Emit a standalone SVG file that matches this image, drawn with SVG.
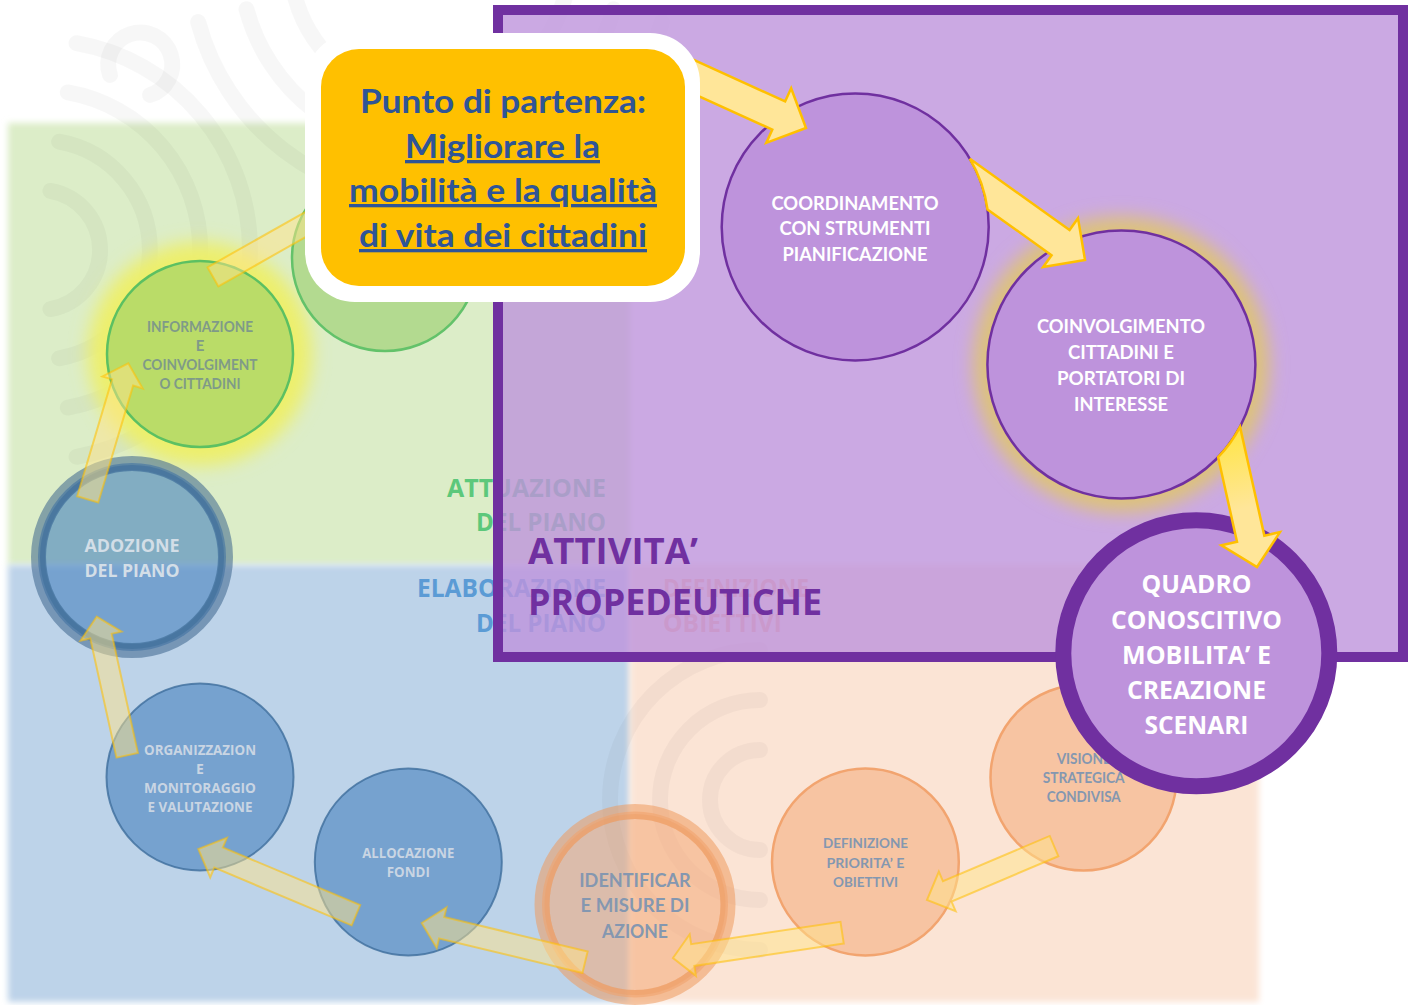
<svg xmlns="http://www.w3.org/2000/svg" width="1409" height="1005" viewBox="0 0 1409 1005">
<defs>
<style>
.q{filter:url(#soft)}
.pat{fill:none;stroke:#000;stroke-opacity:.03;stroke-width:16;stroke-linecap:round}
.lbl{font-family:"Open Sans","Liberation Sans",sans-serif;font-weight:700}
.t{font-family:Lato,"Open Sans","Liberation Sans",sans-serif;font-weight:700;text-anchor:middle}
.o{font-family:"Open Sans","Liberation Sans",sans-serif;font-weight:700;text-anchor:middle}
.big{fill:#FFE699;stroke:#FFC000;stroke-width:2.5;stroke-linejoin:miter}
.fad{fill:#FFE38A;fill-opacity:.5;stroke:#FFC000;stroke-opacity:.55;stroke-width:2;stroke-linejoin:miter}
.pc{fill:#BE93DC;stroke:#7030A0;stroke-width:2.5}
.bc{fill:rgb(70,130,190);fill-opacity:.6;stroke:#3F6E9C;stroke-opacity:.8;stroke-width:2}
.oc{fill:rgb(244,170,120);fill-opacity:.55;stroke:#F2A46F;stroke-width:2.5}
.wt{fill:#FFFFFF}
.gt{fill:#8497B0}
</style>
<filter id="soft" x="-5%" y="-5%" width="110%" height="110%"><feGaussianBlur stdDeviation="3"/></filter>
<filter id="glow" x="-30%" y="-30%" width="160%" height="160%"><feGaussianBlur stdDeviation="9"/></filter>
<linearGradient id="gc" gradientUnits="userSpaceOnUse" x1="-140" y1="0" x2="-60" y2="0"><stop offset="0" stop-color="#FFE545"/><stop offset="1" stop-color="#FFE699"/></linearGradient>
</defs>
<rect width="1409" height="1005" fill="#FFFFFF"/>
<g id="quadrants">
<rect class="q" x="8" y="123" width="622" height="442" fill="#DCEDC8"/>
<rect class="q" x="8" y="565" width="622" height="437" fill="#BDD3E9"/>
<rect class="q" x="630" y="565" width="629" height="437" fill="#FBE4D5"/>
</g>
<g id="bg-pattern">
<path class="pat" d="M50.4,190.9 A60,60 0 0 1 50.4,309.1"/>
<path class="pat" d="M59.1,141.7 A110,110 0 0 1 59.1,358.3"/>
<path class="pat" d="M67.8,92.4 A160,160 0 0 1 67.8,407.6"/>
<path class="pat" d="M76.5,43.2 A210,210 0 0 1 76.5,456.8"/>
<path class="pat" d="M565.2,-3.8 A140,140 0 0 1 294.8,-3.8"/>
<path class="pat" d="M613.5,9.2 A190,190 0 0 1 246.5,9.2"/>
<path class="pat" d="M661.8,22.1 A240,240 0 0 1 198.2,22.1"/>
<path class="pat" d="M110,75 A32,32 0 1 1 150,95"/>
<path class="pat" d="M760,850 A50,50 0 0 1 760,750"/>
<path class="pat" d="M760,900 A100,100 0 0 1 760,700"/>
<path class="pat" d="M760,950 A150,150 0 0 1 760,650"/>
</g>
<g id="phase-labels" class="lbl" font-size="25.5">
<text x="606" y="497" text-anchor="end" fill="#5CC87B" textLength="159" lengthAdjust="spacingAndGlyphs">ATTUAZIONE</text>
<text x="606" y="531" text-anchor="end" fill="#5CC87B" textLength="130" lengthAdjust="spacingAndGlyphs">DEL PIANO</text>
<text x="606" y="597" text-anchor="end" fill="#5B9BD5" textLength="189" lengthAdjust="spacingAndGlyphs">ELABORAZIONE</text>
<text x="606" y="632" text-anchor="end" fill="#5B9BD5" textLength="130" lengthAdjust="spacingAndGlyphs">DEL PIANO</text>
<text x="663" y="597" fill="#F8B08A" textLength="146" lengthAdjust="spacingAndGlyphs">DEFINIZIONE</text>
<text x="663" y="632" fill="#F8B08A" textLength="119" lengthAdjust="spacingAndGlyphs">OBIETTIVI</text>
</g>
<g id="attivita-propedeutiche">
<rect x="498" y="10" width="905" height="647" fill="#BE93DC" fill-opacity="0.8" stroke="#7030A0" stroke-width="10"/>
<text class="lbl" x="528" y="563.5" font-size="35" fill="#7030A0" textLength="170" lengthAdjust="spacingAndGlyphs">ATTIVITA’</text>
<text class="lbl" x="528" y="615" font-size="35" fill="#7030A0" textLength="294" lengthAdjust="spacingAndGlyphs">PROPEDEUTICHE</text>
</g>
<g id="node-informazione">
<circle cx="200" cy="354" r="112" fill="#EDEF6C" filter="url(#glow)"/>
<circle cx="200" cy="354" r="93" fill="#BADC68" stroke="#5CC062" stroke-width="2.5"/>
<g class="t" font-size="15" fill="#7F9A88">
<text x="200" y="331.7" textLength="106" lengthAdjust="spacingAndGlyphs">INFORMAZIONE</text>
<text x="200" y="350.7">E</text>
<text x="200" y="370" textLength="115" lengthAdjust="spacingAndGlyphs">COINVOLGIMENT</text>
<text x="200" y="389.3" textLength="81" lengthAdjust="spacingAndGlyphs">O CITTADINI</text>
</g>
</g>
<g id="node-hidden-green">
<circle cx="385" cy="258" r="93" fill="#B3DA90" stroke="#63C26A" stroke-width="2.5"/>
</g>
<g id="node-adozione">
<circle cx="132" cy="557" r="94" fill="rgb(70,130,190)" fill-opacity="0.6" stroke="rgb(60,100,140)" stroke-opacity="0.55" stroke-width="14"/>
<circle cx="132" cy="557" r="89" fill="none" stroke="#44739E" stroke-opacity="0.75" stroke-width="6"/>
<g class="o" font-size="18.5" fill="#D3DEE7">
<text x="132" y="551.7" textLength="95" lengthAdjust="spacingAndGlyphs">ADOZIONE</text>
<text x="132" y="577" textLength="95" lengthAdjust="spacingAndGlyphs">DEL PIANO</text>
</g>
</g>
<g id="node-organizzazione">
<circle class="bc" cx="200" cy="777" r="93.5"/>
<g class="o" font-size="14" fill="#C9D5E3">
<text x="200" y="754.6" textLength="112" lengthAdjust="spacingAndGlyphs">ORGANIZZAZION</text>
<text x="200" y="773.7">E</text>
<text x="200" y="793" textLength="112" lengthAdjust="spacingAndGlyphs">MONITORAGGIO</text>
<text x="200" y="812" textLength="105" lengthAdjust="spacingAndGlyphs">E VALUTAZIONE</text>
</g>
</g>
<g id="node-allocazione">
<circle class="bc" cx="408.3" cy="862" r="93.5"/>
<g class="o" font-size="14" fill="#C9D5E3">
<text x="408.3" y="858" textLength="92" lengthAdjust="spacingAndGlyphs">ALLOCAZIONE</text>
<text x="408.3" y="877" textLength="43" lengthAdjust="spacingAndGlyphs">FONDI</text>
</g>
</g>
<g id="node-identificare">
<circle cx="635" cy="904.5" r="93" fill="rgb(244,170,120)" fill-opacity="0.55" stroke="#EE9A5E" stroke-opacity="0.55" stroke-width="15"/>
<circle cx="635" cy="904.5" r="88" fill="none" stroke="#EE9A5E" stroke-opacity="0.35" stroke-width="5"/>
<g class="t gt" font-size="18.6">
<text x="635" y="886.7" textLength="111.5" lengthAdjust="spacingAndGlyphs">IDENTIFICAR</text>
<text x="635" y="912.3" textLength="109" lengthAdjust="spacingAndGlyphs">E MISURE DI</text>
<text x="635" y="937.7" textLength="66" lengthAdjust="spacingAndGlyphs">AZIONE</text>
</g>
</g>
<g id="node-definizione">
<circle class="oc" cx="865.4" cy="862" r="93.4"/>
<g class="t gt" font-size="14">
<text x="865.5" y="848.3" textLength="85" lengthAdjust="spacingAndGlyphs">DEFINIZIONE</text>
<text x="865.5" y="867.7" textLength="78" lengthAdjust="spacingAndGlyphs">PRIORITA’ E</text>
<text x="865.5" y="886.7" textLength="65" lengthAdjust="spacingAndGlyphs">OBIETTIVI</text>
</g>
</g>
<g id="node-visione">
<circle class="oc" cx="1083.5" cy="777.5" r="93"/>
<g class="t gt" font-size="14.5">
<text x="1083.7" y="764.3" textLength="54" lengthAdjust="spacingAndGlyphs">VISIONE</text>
<text x="1083.7" y="783.3" textLength="82" lengthAdjust="spacingAndGlyphs">STRATEGICA</text>
<text x="1083.7" y="801.7" textLength="74" lengthAdjust="spacingAndGlyphs">CONDIVISA</text>
</g>
</g>
<g id="node-coordinamento">
<circle class="pc" cx="855.2" cy="227" r="133.5"/>
<g class="t wt" font-size="18.5">
<text x="855" y="209.5" textLength="167" lengthAdjust="spacingAndGlyphs">COORDINAMENTO</text>
<text x="855" y="235" textLength="151" lengthAdjust="spacingAndGlyphs">CON STRUMENTI</text>
<text x="855" y="260.5" textLength="145" lengthAdjust="spacingAndGlyphs">PIANIFICAZIONE</text>
</g>
</g>
<g id="node-coinvolgimento">
<circle cx="1121.4" cy="364.5" r="148" fill="#DDC27A" filter="url(#glow)"/>
<circle class="pc" cx="1121.4" cy="364.5" r="134"/>
<g class="t wt" font-size="19">
<text x="1121" y="333.3" textLength="168" lengthAdjust="spacingAndGlyphs">COINVOLGIMENTO</text>
<text x="1121" y="359" textLength="106" lengthAdjust="spacingAndGlyphs">CITTADINI E</text>
<text x="1121" y="385" textLength="128" lengthAdjust="spacingAndGlyphs">PORTATORI DI</text>
<text x="1121" y="410.5" textLength="94" lengthAdjust="spacingAndGlyphs">INTERESSE</text>
</g>
</g>
<g id="node-quadro">
<circle cx="1196.3" cy="653.3" r="133" fill="#BE93DC" stroke="#7030A0" stroke-width="16"/>
<g class="o wt" font-size="25.5">
<text x="1196.5" y="593" textLength="110" lengthAdjust="spacingAndGlyphs">QUADRO</text>
<text x="1196.5" y="628.5" textLength="171" lengthAdjust="spacingAndGlyphs">CONOSCITIVO</text>
<text x="1196.5" y="664" textLength="149" lengthAdjust="spacingAndGlyphs">MOBILITA’ E</text>
<text x="1196.5" y="699" textLength="139" lengthAdjust="spacingAndGlyphs">CREAZIONE</text>
<text x="1196.5" y="734" textLength="104" lengthAdjust="spacingAndGlyphs">SCENARI</text>
</g>
</g>
<g id="connectors">
<polygon class="fad" points="-154,-11 -22,-11 -22,-21.5 0,0 -22,21.5 -22,11 -154,11" transform="translate(347,201) rotate(-29.5)"/>
<polygon class="fad" points="-142,-11 -20,-11 -20,-21 0,0 -20,21 -20,11 -142,11" transform="translate(128.3,363.3) rotate(-73.4)"/>
<polygon class="fad" points="-142,-11 -20,-11 -20,-21 0,0 -20,21 -20,11 -142,11" transform="translate(96.7,616.6) rotate(-102.4)"/>
<polygon class="fad" points="-171,-11 -22,-11 -22,-21.5 0,0 -22,21.5 -22,11 -171,11" transform="translate(198.3,849) rotate(-157.2)"/>
<polygon class="fad" points="-168,-11 -20.5,-11 -20.5,-21 0,0 -20.5,21 -20.5,11 -168,11" transform="translate(421.7,923) rotate(-166.5)"/>
<polygon class="fad" points="-171,-11 -20,-11 -20,-21 0,0 -20,21 -20,11 -171,11" transform="translate(673,958) rotate(171.5)"/>
<polygon class="fad" points="-138,-11 -22,-11 -22,-21.5 0,0 -22,21.5 -22,11 -138,11" transform="translate(927,900) rotate(157)"/>
<polygon class="big" points="-140,-15.5 -30,-15.5 -30,-30 0,0 -30,30 -30,15.5 -140,15.5" transform="translate(806,128) rotate(24.5)"/>
<path class="big" d="M-152.5,-15.5 L-30,-15.5 L-30,-30 L0,0 L-30,30 L-30,15.5 L-108.7,15.5 A133.5,133.5 0 0 0 -152.5,-15.5 Z" transform="translate(1085,260) rotate(35.5)"/>
<path class="big" style="fill:url(#gc)" d="M-140.5,-14 L-29,-14 L-29,-30 L0,0 L-29,30 L-29,14 L-115.6,14 A134,134 0 0 0 -140.5,-14 Z" transform="translate(1257,567) rotate(77.4)"/>
</g>
<g id="node-punto-di-partenza">
<rect x="305" y="33" width="395" height="269" rx="50" fill="#FFFFFF"/>
<rect x="321" y="49" width="364" height="237" rx="38" fill="#FFC000"/>
<g class="t" font-size="33" fill="#2F5597">
<text x="503" y="113" textLength="286" lengthAdjust="spacingAndGlyphs">Punto di partenza:</text>
<text x="502.5" y="158" text-decoration="underline" textLength="195" lengthAdjust="spacingAndGlyphs">Migliorare la</text>
<text x="503" y="202" text-decoration="underline" textLength="308" lengthAdjust="spacingAndGlyphs">mobilità e la qualità</text>
<text x="503" y="247" text-decoration="underline" textLength="288" lengthAdjust="spacingAndGlyphs">di vita dei cittadini</text>
</g>
</g>
</svg>
